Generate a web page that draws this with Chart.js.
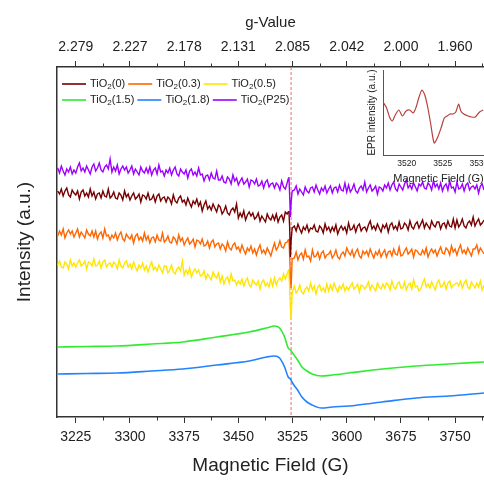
<!DOCTYPE html>
<html><head><meta charset="utf-8">
<script src="https://cdn.jsdelivr.net/npm/chart.js@4.4.1/dist/chart.umd.min.js"></script>
<style>
html,body{margin:0;padding:0;background:#fff;overflow:hidden;width:484px;height:480px;}
#wrap{position:relative;width:484px;height:480px;overflow:hidden;}
#main{position:absolute;left:0;top:0;width:484px;height:480px;}
#inset{position:absolute;left:358px;top:60px;width:136px;height:128px;}
</style></head><body>
<div id="wrap">
<canvas id="main" width="484" height="480"></canvas>
<canvas id="inset" width="136" height="128"></canvas>
</div>
<script>
// ---------- data ----------
const seriesNames = ['TiO₂(0)', 'TiO₂(0.3)', 'TiO₂(0.5)', 'TiO₂(1.5)', 'TiO₂(1.8)', 'TiO₂(P25)'];
const seriesColors = ['#760000', '#ff6600', '#ffe600', '#33ea33', '#2382ff', '#9d00ff'];

const fieldTicks = [3225, 3300, 3375, 3450, 3525, 3600, 3675, 3750];
const fieldMinorTicks = [3262.5, 3337.5, 3412.5, 3487.5, 3562.5, 3637.5, 3712.5, 3787.5];
const gTickLabels = ['2.279', '2.227', '2.178', '2.131', '2.085', '2.042', '2.000', '1.960'];
const markerField = 3523;

const fieldsNoisy = [
3200,3202.5,3205,3207.5,3210,3212.5,3215,3217.5,3220,3222.5,
3225,3227.5,3230,3232.5,3235,3237.5,3240,3242.5,3245,3247.5,
3250,3252.5,3255,3257.5,3260,3262.5,3265,3267.5,3270,3272.5,
3275,3277.5,3280,3282.5,3285,3287.5,3290,3292.5,3295,3297.5,
3300,3302.5,3305,3307.5,3310,3312.5,3315,3317.5,3320,3322.5,
3325,3327.5,3330,3332.5,3335,3337.5,3340,3342.5,3345,3347.5,
3350,3352.5,3355,3357.5,3360,3362.5,3365,3367.5,3370,3372.5,
3375,3377.5,3380,3382.5,3385,3387.5,3390,3392.5,3395,3397.5,
3400,3402.5,3405,3407.5,3410,3412.5,3415,3417.5,3420,3422.5,
3425,3427.5,3430,3432.5,3435,3437.5,3440,3442.5,3445,3447.5,
3450,3452.5,3455,3457.5,3460,3462.5,3465,3467.5,3470,3472.5,
3475,3477.5,3480,3482.5,3485,3487.5,3490,3492.5,3495,3497.5,
3500,3502.5,3505,3507.5,3510,3512.5,3515,
3517.5,3519,3520,3521,3522,3523,3524.5,
3527.5,3530,3532.5,3535,3537.5,3540,3542.5,3545,3547.5,3550,
3552.5,3555,3557.5,3560,3562.5,3565,3567.5,3570,3572.5,3575,
3577.5,3580,3582.5,3585,3587.5,3590,3592.5,3595,3597.5,3600,
3602.5,3605,3607.5,3610,3612.5,3615,3617.5,3620,3622.5,3625,
3627.5,3630,3632.5,3635,3637.5,3640,3642.5,3645,3647.5,3650,
3652.5,3655,3657.5,3660,3662.5,3665,3667.5,3670,3672.5,3675,
3677.5,3680,3682.5,3685,3687.5,3690,3692.5,3695,3697.5,3700,
3702.5,3705,3707.5,3710,3712.5,3715,3717.5,3720,3722.5,3725,
3727.5,3730,3732.5,3735,3737.5,3740,3742.5,3745,3747.5,3750,
3752.5,3755,3757.5,3760,3762.5,3765,3767.5,3770,3772.5,3775,
3777.5,3780,3782.5,3785,3787.5,3790];

const tio2_0 = [
226,223,228,221,226,229,222,220,227,224,
222,226,218,225,227,221,224,220,228,221,
225,218,223,224,219,226,221,220,228,219,
221,225,219,218,224,222,217,226,220,223,
217,221,224,218,220,223,215,222,221,218,
224,217,218,222,215,221,223,216,219,220,
215,220,218,213,222,216,214,219,221,215,
217,212,219,214,210,216,213,218,211,215,
206,212,216,208,211,207,213,209,205,212,
210,203,206,211,204,202,207,209,205,213,
199,204,200,206,197,202,205,201,204,198,
200,204,196,201,198,195,203,199,197,202,
197,203,195,200,202,196,205,
203,205,206,190,160,176,189,
191,186,193,188,184,190,187,192,185,189,
188,192,186,185,191,189,184,193,187,190,
185,190,186,192,183,188,191,187,190,184,
194,187,188,192,185,191,193,186,189,190,
186,192,196,188,191,187,193,189,185,192,
189,193,185,192,194,188,191,187,195,188,
189,194,192,187,196,190,188,193,195,189,
193,197,189,194,191,188,196,192,190,195,
195,188,193,194,189,196,191,190,198,189,
197,190,193,198,191,189,194,196,192,200,
191,195,198,192,194,197];

const tio2_03 = [
181,186,182,188,179,184,187,183,186,180,
184,188,180,185,182,179,187,183,181,186,
180,186,178,183,185,179,188,181,182,177,
182,179,184,177,182,185,178,176,183,180,
178,182,174,181,183,177,180,176,184,177,
181,174,179,180,175,182,177,176,184,175,
177,181,175,174,180,178,173,182,176,179,
172,176,179,173,175,178,170,177,176,173,
178,171,172,176,169,175,177,170,173,174,
168,173,171,166,175,169,167,172,174,168,
170,165,172,167,163,169,166,171,164,168,
162,168,172,164,167,163,169,165,161,168,
174,167,170,176,170,169,174,
175,177,178,162,140,129,158,
159,165,157,162,164,158,167,160,161,156,
167,160,161,165,158,164,166,159,162,163,
166,159,162,167,160,158,163,165,161,169,
165,162,167,160,165,168,161,159,166,163,
166,161,168,163,159,165,162,167,160,164,
167,160,165,166,161,168,163,162,170,161,
162,166,169,163,165,168,160,167,166,163,
162,167,163,169,160,165,168,164,167,161,
166,170,164,163,169,167,162,171,165,168,
162,168,172,164,167,163,169,165,161,168,
168,172,164,169,166,163];

const tio2_05 = [
152,156,150,149,155,153,148,157,151,154,
150,154,157,151,153,156,148,155,154,151,
158,151,152,156,149,155,157,150,153,154,
150,155,153,148,157,151,149,154,156,150,
153,148,155,150,146,152,149,154,147,151,
145,151,155,147,150,146,152,148,144,151,
151,144,147,152,145,143,148,150,146,156,
142,147,143,149,140,145,148,144,147,141,
142,146,138,143,140,137,145,141,139,144,
135,141,133,138,140,134,143,136,137,132,
136,133,138,131,136,139,132,130,137,134,
132,136,128,135,137,131,134,130,138,131,
139,132,137,139,136,143,138,
143,146,148,128,110,97,124,
131,124,127,132,125,123,128,130,126,134,
127,131,123,130,132,126,129,125,133,126,
132,127,134,129,125,131,128,133,126,130,
127,131,134,128,130,133,125,132,131,128,
131,135,127,132,129,126,134,130,128,133,
129,134,132,127,136,130,128,133,135,129,
129,135,127,132,134,128,137,130,131,126,
128,134,138,130,133,129,135,131,127,134,
137,130,131,135,128,134,136,129,132,133,
134,131,136,129,134,137,130,128,135,132,
129,134,130,136,127,132];

const tio2_p25 = [
249,244,251,246,242,248,245,250,243,247,
244,250,254,246,249,245,251,247,243,250,
253,246,249,254,247,245,250,252,248,258,
245,250,246,252,243,248,251,247,250,244,
247,251,243,248,245,242,250,246,244,249,
244,250,242,247,249,243,252,245,246,241,
247,244,249,242,247,250,243,241,248,245,
243,247,239,246,248,242,245,241,249,242,
243,236,241,242,237,244,239,238,246,237,
237,241,235,234,240,238,233,242,236,239,
232,236,239,233,235,238,230,237,236,233,
238,231,232,236,229,235,237,230,233,234,
229,234,232,227,236,230,228,
234,238,240,222,200,214,226,
227,231,223,228,225,222,230,226,224,229,
230,225,232,227,223,229,226,231,224,228,
231,224,229,230,225,232,227,226,234,225,
232,225,228,233,226,224,229,231,227,235,
225,229,232,226,228,231,223,230,229,226,
232,229,234,227,232,235,228,226,233,230,
227,233,237,229,232,228,234,230,226,233,
231,235,229,228,234,232,227,236,230,233,
228,234,226,231,233,227,236,229,230,225,
235,228,229,233,226,232,234,227,230,231,
228,232,224,231,233,227];

const fieldsSmooth = [3200,3240,3282,3330,3373,3420,3465,3489,3500,3507,3514,3519,3522,3525,3532,3538,3545,3552,3565,3580,3603,3649,3696,3741,3790];
const tio2_15 = [70,70.5,71,73,75,80,85,89,91,89,80,69,67,64,57,50,46,43,41,42,44,48,51,53,55];
const tio2_18 = [43,43.5,44,46,48,52,56,60,61,59,50,40,38,34,27,20,15,12,9,10,11,15,19,21,24];

const insetFields = [3516.7,3517.2,3517.6,3518.0,3518.4,3518.9,3519.4,3519.9,3520.4,3520.9,3521.3,3521.7,3522.1,3522.5,3522.9,3523.3,3523.8,3524.3,3524.8,3525.2,3525.6,3526.0,3526.4,3526.8,3527.2,3527.5,3527.9,3528.5,3529.0,3529.5,3530.1,3530.6];
const insetValues = [53,47,38,34,40,45,39,44,45,42,48,58,65,60,48,32,12,18,28,37,39,41,41,43,51,44,41,39,38,38,43,45];
const insetTicks = [3520, 3525, 3530];
const insetColor = '#b8403c';

// ---------- build ----------
const FONT = '"Liberation Sans", Arial, Helvetica, sans-serif';
const pts = (xs, ys) => xs.map((x, i) => ({x: x, y: ys[i]}));
const datasets = [
  {label: seriesNames[0], data: pts(fieldsNoisy, tio2_0), borderColor: seriesColors[0], borderWidth: 1.4},
  {label: seriesNames[1], data: pts(fieldsNoisy, tio2_03), borderColor: seriesColors[1], borderWidth: 1.4},
  {label: seriesNames[2], data: pts(fieldsNoisy, tio2_05), borderColor: seriesColors[2], borderWidth: 1.4},
  {label: seriesNames[3], data: pts(fieldsSmooth, tio2_15), borderColor: seriesColors[3], borderWidth: 1.6, cubicInterpolationMode: 'monotone'},
  {label: seriesNames[4], data: pts(fieldsSmooth, tio2_18), borderColor: seriesColors[4], borderWidth: 1.6, cubicInterpolationMode: 'monotone'},
  {label: seriesNames[5], data: pts(fieldsNoisy, tio2_p25), borderColor: seriesColors[5], borderWidth: 1.4}
].map(d => Object.assign({pointRadius: 0, fill: false, tension: 0}, d));

function drawLabel(ctx, text, x, y) {
  const parts = text.split('₂');
  ctx.font = '11px ' + FONT;
  ctx.fillText(parts[0], x, y);
  let w = ctx.measureText(parts[0]).width;
  if (parts.length > 1) {
    ctx.font = '8px ' + FONT;
    ctx.fillText('2', x + w, y + 3);
    w += ctx.measureText('2').width;
    ctx.font = '11px ' + FONT;
    ctx.fillText(parts[1], x + w, y);
    w += ctx.measureText(parts[1]).width;
  }
  return w;
}

const decor = {
  id: 'decor',
  beforeDatasetsDraw(chart) {
    const {ctx, chartArea: a, scales: {x}} = chart;
    const px = x.getPixelForValue(markerField);
    ctx.save();
    ctx.strokeStyle = 'rgba(232,90,105,0.9)';
    ctx.lineWidth = 1;
    ctx.setLineDash([3, 2]);
    ctx.beginPath(); ctx.moveTo(px, a.top); ctx.lineTo(px, a.bottom); ctx.stroke();
    ctx.restore();
  },
  afterDraw(chart) {
    const {ctx, chartArea: a, scales: {x}} = chart;
    ctx.save();
    ctx.strokeStyle = '#333'; ctx.lineWidth = 1;
    fieldMinorTicks.forEach(v => {
      const px = Math.round(x.getPixelForValue(v)) + 0.5;
      ctx.beginPath();
      ctx.moveTo(px, a.bottom); ctx.lineTo(px, a.bottom + 3.5);
      ctx.moveTo(px, a.top); ctx.lineTo(px, a.top - 3.5);
      ctx.stroke();
    });
    const rowY = [84, 100];
    ctx.textBaseline = 'middle'; ctx.textAlign = 'left';
    let cx = 0;
    chart.data.datasets.forEach((ds, i) => {
      const y = rowY[Math.floor(i / 3)];
      if (i % 3 === 0) cx = 62;
      ctx.strokeStyle = ds.borderColor; ctx.lineWidth = 1.6;
      ctx.beginPath(); ctx.moveTo(cx, y); ctx.lineTo(cx + 24, y); ctx.stroke();
      cx += 28;
      ctx.fillStyle = '#222';
      cx += drawLabel(ctx, ds.label, cx, y) + 3;
    });
    ctx.restore();
  }
};

const tickFont = {family: FONT, size: 14};
new Chart(document.getElementById('main'), {
  type: 'line',
  data: {datasets: datasets},
  options: {
    responsive: false, animation: false,
    layout: {padding: 0},
    plugins: {legend: {display: false}, tooltip: {enabled: false}},
    scales: {
      x: {
        type: 'linear', position: 'bottom', min: 3199, max: 3790,
        afterBuildTicks: s => { s.ticks = fieldTicks.map(v => ({value: v})); },
        ticks: {font: tickFont, color: '#222', padding: 5.6, maxRotation: 0, autoSkip: false, callback: v => String(v)},
        grid: {drawOnChartArea: false, drawTicks: true, tickLength: 6, tickColor: '#333', color: '#333'},
        border: {display: true, color: '#333', width: 1.5},
        title: {display: true, text: 'Magnetic Field (G)', font: {family: FONT, size: 19}, color: '#222', padding: {top: 3.6, bottom: 2.6}}
      },
      xTop: {
        type: 'linear', position: 'top', min: 3199, max: 3790,
        afterBuildTicks: s => { s.ticks = fieldTicks.map(v => ({value: v})); },
        ticks: {font: tickFont, color: '#222', padding: 5.6, maxRotation: 0, autoSkip: false, callback: (v, i) => gTickLabels[i]},
        grid: {drawOnChartArea: false, drawTicks: true, tickLength: 6, tickColor: '#333', color: '#333'},
        border: {display: true, color: '#333', width: 1.5},
        title: {display: true, text: 'g-Value', font: {family: FONT, size: 15}, color: '#222', padding: {top: 14, bottom: 1}}
      },
      y: {
        min: 0, max: 350,
        ticks: {display: false},
        grid: {display: false, drawTicks: false},
        border: {display: true, color: '#333', width: 1.5},
        title: {display: true, text: 'Intensity (a.u.)', font: {family: FONT, size: 19}, color: '#222', padding: {top: 13, bottom: 21.2}}
      }
    }
  },
  plugins: [decor]
});

new Chart(document.getElementById('inset'), {
  type: 'line',
  data: {datasets: [{label: 'TiO₂(0)', data: pts(insetFields, insetValues), borderColor: insetColor, borderWidth: 1.2, pointRadius: 0, tension: 0.25}]},
  options: {
    responsive: false, animation: false,
    layout: {padding: {top: 10, left: 0, right: 0, bottom: 0}},
    plugins: {legend: {display: false}, tooltip: {enabled: false}},
    scales: {
      x: {
        type: 'linear', min: 3516.7, max: 3532.1,
        afterBuildTicks: s => { s.ticks = insetTicks.map(v => ({value: v})); },
        ticks: {font: {family: FONT, size: 8.5}, color: '#222', padding: 3.5, maxRotation: 0, autoSkip: false, callback: v => String(v)},
        grid: {display: false, drawTicks: false},
        border: {display: true, color: '#555', width: 1},
        title: {display: true, text: 'Magnetic Field (G)', font: {family: FONT, size: 11}, color: '#222', padding: {top: 0, bottom: 2.6}}
      },
      y: {
        min: 0, max: 85,
        ticks: {display: false},
        grid: {display: false, drawTicks: false},
        border: {display: true, color: '#555', width: 1},
        title: {display: true, text: 'EPR intensity (a.u.)', font: {family: FONT, size: 10}, color: '#222', padding: {top: 8, bottom: 5}}
      }
    }
  }
});
</script>
</body></html>
